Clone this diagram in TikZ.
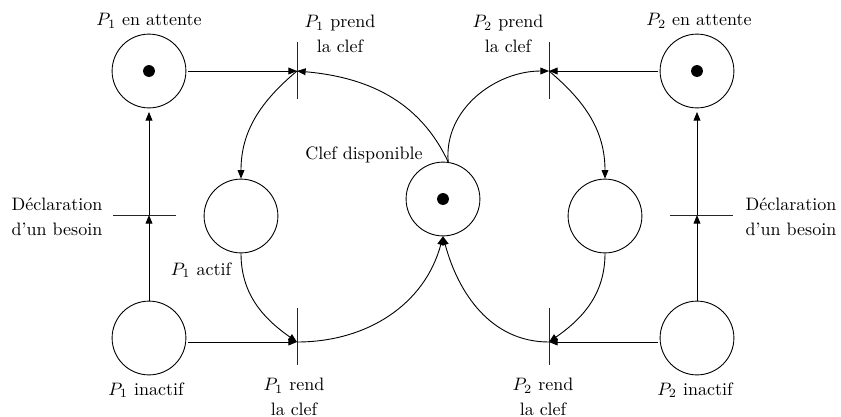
\documentclass[tikz,border=0pt]{standalone}
\usepackage{tikz}
\usetikzlibrary{arrows.meta,calc}

\begin{document}
\begin{tikzpicture}[
    x=0.5556pt, y=-0.5556pt,
    every node/.style={font=\fontsize{10}{13.9}\selectfont},
    place/.style={circle, draw=black, line width=0.5pt, minimum size=41pt, inner sep=0pt},
    marked/.style={path picture={\fill[black] (path picture bounding box.center) circle (3.3pt);}},
    etiq/.style={align=center, inner sep=0pt},
    bar/.style={line width=0.5pt, draw=black!85},
    arc/.style={-{Triangle[length=4.8pt,width=3.8pt]}, line width=0.5pt}
]
    \useasboundingbox (0,0) rectangle (841,416);

    % places
    \node [place, marked] (att1) at (149,71) {};
    \node [place] (act1) at (241,216) {};
    \node [place] (inact1) at (149,338) {};
    \node [place, marked] (clef) at (443,199) {};
    \node [place] (act2) at (605,216) {};
    \node [place, marked] (att2) at (697,71) {};
    \node [place] (inact2) at (697,338) {};

    % transitions
    \coordinate (tp1) at (297,71);
    \coordinate (tr1) at (297,342);
    \coordinate (tp2) at (549,71);
    \coordinate (tr2) at (549,342);
    \coordinate (td1) at (149,215);
    \coordinate (td2) at (697,215);
    \foreach \t/\a/\b in {tp1/-29/28, tp2/-29/28, tr1/-34/23, tr2/-34/23}
        \draw [bar] ($(\t)+(0,\a)$) -- ($(\t)+(0,\b)$);
    \draw [bar] ($(td1)+(-36,0)$) -- ($(td1)+(27,0)$);
    \draw [bar] ($(td2)+(-27,0)$) -- ($(td2)+(36,0)$);

    % labels
    \node [etiq] (l_att1) at (149,21) {$P_1$ en attente};
    \node [etiq] (l_tp1) at (340,34) {$P_1$ prend\\la clef};
    \node [etiq] (l_tp2) at (508,34) {$P_2$ prend\\la clef};
    \node [etiq] (l_att2) at (699,21) {$P_2$ en attente};
    \node [etiq] (l_clef) at (364,155) {Clef disponible};
    \node [etiq] (l_td1) at (57,217) {D\'eclaration\\d'un besoin};
    \node [etiq] (l_td2) at (791,217) {D\'eclaration\\d'un besoin};
    \node [etiq] (l_act1) at (201,270) {$P_1$ actif};
    \node [etiq] (l_inact1) at (146,390) {$P_1$ inactif};
    \node [etiq] (l_tr1) at (294,397) {$P_1$ rend\\la clef};
    \node [etiq] (l_tr2) at (543,397) {$P_2$ rend\\la clef};
    \node [etiq] (l_inact2) at (695,390) {$P_2$ inactif};

    % processus 1
    \draw [arc, shorten <=1pt] (att1) -- (tp1);
    \draw [arc] (inact1) -- (td1);
    \draw [arc, shorten >=2pt] (td1) -- (att1);
    \draw [arc, shorten <=1pt] (inact1.east |- tr1) -- (tr1);
    \draw [arc] (tp1) to[out=220, in=90] (act1.north);
    \draw [arc] (act1.south) to[out=-90, in=145] (tr1);

    % processus 2
    \draw [arc, shorten <=1pt] (att2) -- (tp2);
    \draw [arc] (inact2) -- (td2);
    \draw [arc, shorten >=2pt] (td2) -- (att2);
    \draw [arc, shorten <=1pt] (inact2.west |- tr2) -- (tr2);
    \draw [arc] (tp2) to[out=-40, in=90] (act2.north);
    \draw [arc] (act2.south) to[out=-90, in=35] (tr2);

    % clef
    \draw [arc] (clef.82) to[out=115, in=-5] (tp1);
    \draw [arc] (clef.82) to[out=95, in=180] (tp2);
    \draw [arc] (tr1) to[out=0, in=-105] (clef.south);
    \draw [arc] (tr2) to[out=180, in=-75] (clef.south);
\end{tikzpicture}
\end{document}
